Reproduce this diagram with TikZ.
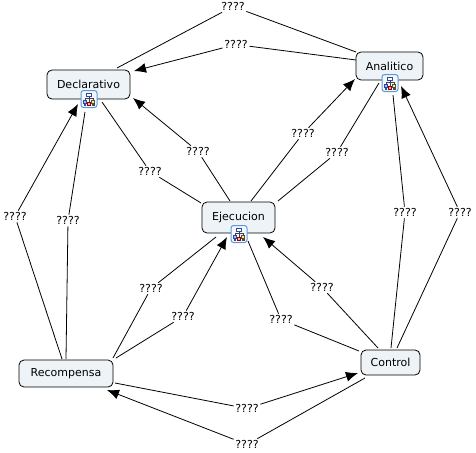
\documentclass[tikz,border=0pt]{standalone}
\usepackage{fontspec}
\setmainfont{DejaVu Sans}
\usetikzlibrary{arrows.meta}
\definecolor{boxfill}{HTML}{EDF3F6}
\definecolor{iconblue}{HTML}{5B9BD5}
\definecolor{icondark}{HTML}{2A4A9A}
\tikzset{
  x=1pt,y=-1pt,
  concept/.style={draw=black,line width=0.8pt,fill=boxfill,rounded corners=5pt,inner sep=0pt,font=\fontsize{11}{13}\selectfont},
  lab/.style={inner sep=1.5pt,font=\fontsize{11}{13}\selectfont},
  link/.style={draw=black,line width=0.8pt},
  arr/.style={link,-{Latex[length=12pt,width=10pt]}},
  iconbox/.style={draw=iconblue,line width=1pt,fill=blue!4,rounded corners=2.5pt,minimum width=16pt,minimum height=17pt,inner sep=0pt},
  mini/.style={line width=0.7pt,fill=white}
}
\newcommand{\hierIcon}[2]{%
  \node[iconbox] (#2) at (#1) {};
  \begin{scope}[shift={(#1)}]
    \draw[line width=0.6pt,black!75] (0,-3)--(0,3) (-4,1)--(-4,-0.5)--(4,-0.5)--(4,1);
    \draw[mini,draw=icondark] (-2.5,-6) rectangle (2.5,-3);
    \draw[mini,draw=icondark,fill=blue!30] (-5.5,1) rectangle (-2.5,4);
    \draw[mini,draw=black!70,fill=yellow!70] (2.5,1) rectangle (5.5,4);
    \draw[mini,draw=red!60!black,fill=red!35] (-1.5,3) rectangle (1.5,6);
    \fill[icondark] (-5.5,4.5) rectangle (-3,6.5);
    \fill[black!70] (3,4.5) rectangle (5.5,6.5);
  \end{scope}}
\begin{document}
\begin{tikzpicture}
\useasboundingbox (0,0) rectangle (476,452);
% concept boxes
\node[concept,minimum width=83pt,minimum height=29pt] (decl) at (88.5,84.5) {Declarativo};
\node[concept,minimum width=73pt,minimum height=31pt] (ejec) at (238.5,217.5) {Ejecucion};
\node[concept,minimum width=67pt,minimum height=28pt] (anal) at (389.5,66) {Analitico};
\node[concept,minimum width=94pt,minimum height=27pt] (reco) at (66,373.5) {Recompensa};
\node[concept,minimum width=59pt,minimum height=25pt] (ctrl) at (390.5,362.5) {Control};
\hierIcon{89,99}{ic1}
\hierIcon{239,234}{ic2}
\hierIcon{390,83}{ic3}
% labels
\node[lab] (l1) at (233,6.5) {????};
\node[lab] (l2) at (236,44.5) {????};
\node[lab] (l3) at (198,151.5) {????};
\node[lab] (l4) at (150,171.5) {????};
\node[lab] (l5) at (303,133.5) {????};
\node[lab] (l6) at (337,152.5) {????};
\node[lab] (l7) at (405,212.5) {????};
\node[lab] (l8) at (460,212.5) {????};
\node[lab] (l9) at (15,216.5) {????};
\node[lab] (l10) at (68,220.5) {????};
\node[lab] (l11) at (151,288.5) {????};
\node[lab] (l12) at (183,316.5) {????};
\node[lab] (l13) at (322,287.5) {????};
\node[lab] (l14) at (281,319.5) {????};
\node[lab] (l15) at (247,408.5) {????};
\node[lab] (l16) at (247,444.5) {????};
% connectors
\draw[link] ([shift={(28.5,-16.5)}]decl.center)--(l1);
\draw[link] (l1)--([shift={(-33.5,-14)}]anal.center);
\draw[link] ([shift={(-33.5,-6)}]anal.center)--(l2);
\draw[arr] (l2)--([shift={(45.5,-13.5)}]decl.center);
\draw[link] ([shift={(-8.5,-16.5)}]ejec.center)--(l3);
\draw[arr] (l3)--([shift={(44.5,13.5)}]decl.center);
\draw[link] ([shift={(-37.5,-14.5)}]ejec.center)--(l4);
\draw[link] (l4)--([shift={(13.5,17.5)}]decl.center);
\draw[link] ([shift={(12.5,-16.5)}]ejec.center)--(l5);
\draw[arr] (l5)--([shift={(-34.5,13)}]anal.center);
\draw[link] ([shift={(39.5,-16.5)}]ejec.center)--(l6);
\draw[link] (l6)--([shift={(-10.5,17)}]anal.center);
\draw[link] ([shift={(0.5,-14.5)}]ctrl.center)--(l7);
\draw[link] (l7)--([shift={(3.5,29)}]anal.center);
\draw[link] ([shift={(6.5,-14.5)}]ctrl.center)--(l8);
\draw[arr] (l8)--([shift={(11.5,20)}]anal.center);
\draw[link] ([shift={(-4,-14.5)}]reco.center)--(l9);
\draw[arr] (l9)--([shift={(-10.5,19.5)}]decl.center);
\draw[link] ([shift={(0,-14.5)}]reco.center)--(l10);
\draw[link] (l10)--([shift={(-3.5,27.5)}]decl.center);
\draw[link] ([shift={(47,-15.5)}]reco.center)--(l11);
\draw[link] (l11)--([shift={(-22.5,19.5)}]ejec.center);
\draw[link] ([shift={(50,-15.5)}]reco.center)--(l12);
\draw[arr] (l12)--([shift={(-11.5,19.5)}]ejec.center);
\draw[link] ([shift={(-12.5,-14.5)}]ctrl.center)--(l13);
\draw[arr] (l13)--([shift={(24.5,19.5)}]ejec.center);
\draw[link] ([shift={(-31.5,-11.5)}]ctrl.center)--(l14);
\draw[link] (l14)--([shift={(9.5,23.5)}]ejec.center);
\draw[link] ([shift={(49,9.5)}]reco.center)--(l15);
\draw[arr] (l15)--([shift={(-32.5,10.5)}]ctrl.center);
\draw[link] ([shift={(-25.5,15.5)}]ctrl.center)--(l16);
\draw[arr] (l16)--([shift={(41,16.5)}]reco.center);
\end{tikzpicture}
\end{document}
